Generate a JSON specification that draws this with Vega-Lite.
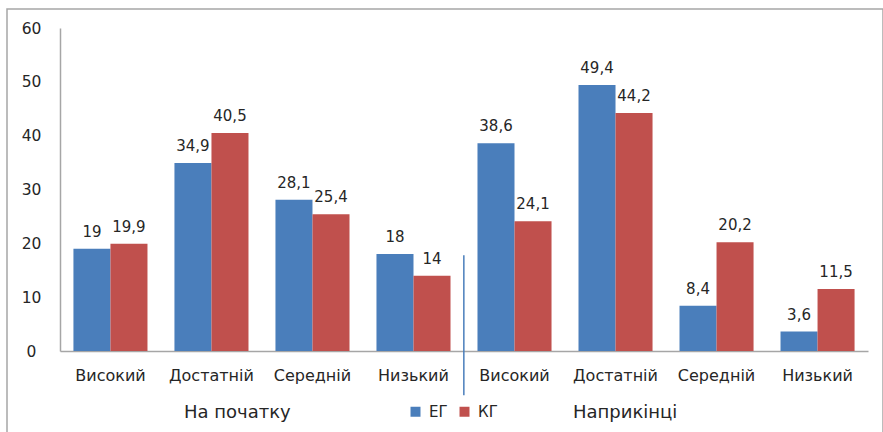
{
  "$schema": "https://vega.github.io/schema/vega-lite/v6.json",
  "width": 876,
  "height": 430,
  "autosize": "none",
  "padding": {"left": 7, "top": 9, "right": 0, "bottom": 0},
  "background": "white",
  "config": {
    "view": {"stroke": "#a6a6a6", "strokeWidth": 1.5},
    "font": "DejaVu Sans",
    "locale": {"number": {"decimal": ",", "thousands": " ", "grouping": [3], "currency": ["", ""]}}
  },
  "datasets": {
    "bars": [
      {"cat": "На початку|Високий", "grp": "ЕГ", "value": 19},
      {"cat": "На початку|Високий", "grp": "КГ", "value": 19.9},
      {"cat": "На початку|Достатній", "grp": "ЕГ", "value": 34.9},
      {"cat": "На початку|Достатній", "grp": "КГ", "value": 40.5},
      {"cat": "На початку|Середній", "grp": "ЕГ", "value": 28.1},
      {"cat": "На початку|Середній", "grp": "КГ", "value": 25.4},
      {"cat": "На початку|Низький", "grp": "ЕГ", "value": 18},
      {"cat": "На початку|Низький", "grp": "КГ", "value": 14},
      {"cat": "Наприкінці|Високий", "grp": "ЕГ", "value": 38.6},
      {"cat": "Наприкінці|Високий", "grp": "КГ", "value": 24.1},
      {"cat": "Наприкінці|Достатній", "grp": "ЕГ", "value": 49.4},
      {"cat": "Наприкінці|Достатній", "grp": "КГ", "value": 44.2},
      {"cat": "Наприкінці|Середній", "grp": "ЕГ", "value": 8.4},
      {"cat": "Наприкінці|Середній", "grp": "КГ", "value": 20.2},
      {"cat": "Наприкінці|Низький", "grp": "ЕГ", "value": 3.6},
      {"cat": "Наприкінці|Низький", "grp": "КГ", "value": 11.5}
    ],
    "groups": [
      {"label": "На початку", "anchor": "На початку|Достатній"},
      {"label": "Наприкінці", "anchor": "Наприкінці|Достатній"}
    ],
    "separator": [
      {"at": "На початку|Низький", "top": 17.8, "bottom": -8.2}
    ]
  },
  "encoding": {
    "x": {
      "field": "cat",
      "type": "nominal",
      "sort": null,
      "scale": {
        "domain": ["На початку|Високий", "На початку|Достатній", "На початку|Середній", "На початку|Низький", "Наприкінці|Високий", "Наприкінці|Достатній", "Наприкінці|Середній", "Наприкінці|Низький"],
        "range": [53, 861],
        "paddingInner": 0.267,
        "paddingOuter": 0.133
      },
      "axis": {
        "orient": "bottom",
        "offset": -88,
        "title": null,
        "labelExpr": "split(datum.label, '|')[1]",
        "labelAngle": 0,
        "ticks": false,
        "tickSize": 0,
        "labelPadding": 16,
        "labelFontSize": 16,
        "labelColor": "#262626",
        "domainColor": "#a6a6a6",
        "domainWidth": 1.5
      }
    }
  },
  "layer": [
    {
      "data": {"name": "bars"},
      "mark": {"type": "bar"},
      "encoding": {
        "xOffset": {"field": "grp", "type": "nominal", "scale": {"domain": ["ЕГ", "КГ"], "paddingInner": 0, "paddingOuter": 0}},
        "y": {
          "field": "value",
          "type": "quantitative",
          "scale": {"domain": [0, 60], "range": [342, 19], "nice": false},
          "axis": {
            "title": null,
            "values": [0, 10, 20, 30, 40, 50, 60],
            "offset": -53,
            "ticks": false,
            "tickSize": 0,
            "grid": false,
            "labelAlign": "center",
            "labelPadding": 29,
            "labelFontSize": 15.5,
            "labelColor": "#262626",
            "domainColor": "#a6a6a6",
            "domainWidth": 1.5
          }
        },
        "y2": {"datum": 0},
        "color": {
          "field": "grp",
          "type": "nominal",
          "scale": {"domain": ["ЕГ", "КГ"], "range": ["#4A7EBB", "#C0504D"]},
          "legend": {
            "orient": "none",
            "legendX": 401,
            "legendY": 395,
            "direction": "horizontal",
            "title": null,
            "symbolType": "square",
            "symbolSize": 100,
            "symbolStrokeWidth": 0,
            "labelFontSize": 15,
            "labelColor": "#262626",
            "labelOffset": 6,
            "columnPadding": 9,
            "padding": 0
          }
        }
      }
    },
    {
      "data": {"name": "bars"},
      "mark": {"type": "text", "baseline": "bottom", "dy": -9, "fontSize": 15, "color": "#262626"},
      "encoding": {
        "xOffset": {"field": "grp", "type": "nominal", "scale": {"domain": ["ЕГ", "КГ"], "paddingInner": 0, "paddingOuter": 0}},
        "y": {"field": "value", "type": "quantitative"},
        "text": {"field": "value", "type": "quantitative", "format": ".1~f"}
      }
    },
    {
      "data": {"name": "separator"},
      "mark": {"type": "rule", "color": "#4A7EBB", "strokeWidth": 1.5},
      "encoding": {
        "x": {"field": "at", "type": "nominal", "bandPosition": 1.18},
        "y": {"field": "top", "type": "quantitative"},
        "y2": {"field": "bottom"}
      }
    },
    {
      "data": {"name": "groups"},
      "transform": [{"filter": "datum.label == 'На початку'"}],
      "mark": {"type": "text", "fontSize": 18, "color": "#262626", "baseline": "middle"},
      "encoding": {
        "x": {"field": "anchor", "type": "nominal", "bandPosition": 0.85},
        "y": {"datum": -11.5},
        "text": {"field": "label"}
      }
    },
    {
      "data": {"name": "groups"},
      "transform": [{"filter": "datum.label == 'Наприкінці'"}],
      "mark": {"type": "text", "fontSize": 18, "color": "#262626", "baseline": "middle"},
      "encoding": {
        "x": {"field": "anchor", "type": "nominal", "bandPosition": 0.63},
        "y": {"datum": -11.5},
        "text": {"field": "label"}
      }
    }
  ]
}
